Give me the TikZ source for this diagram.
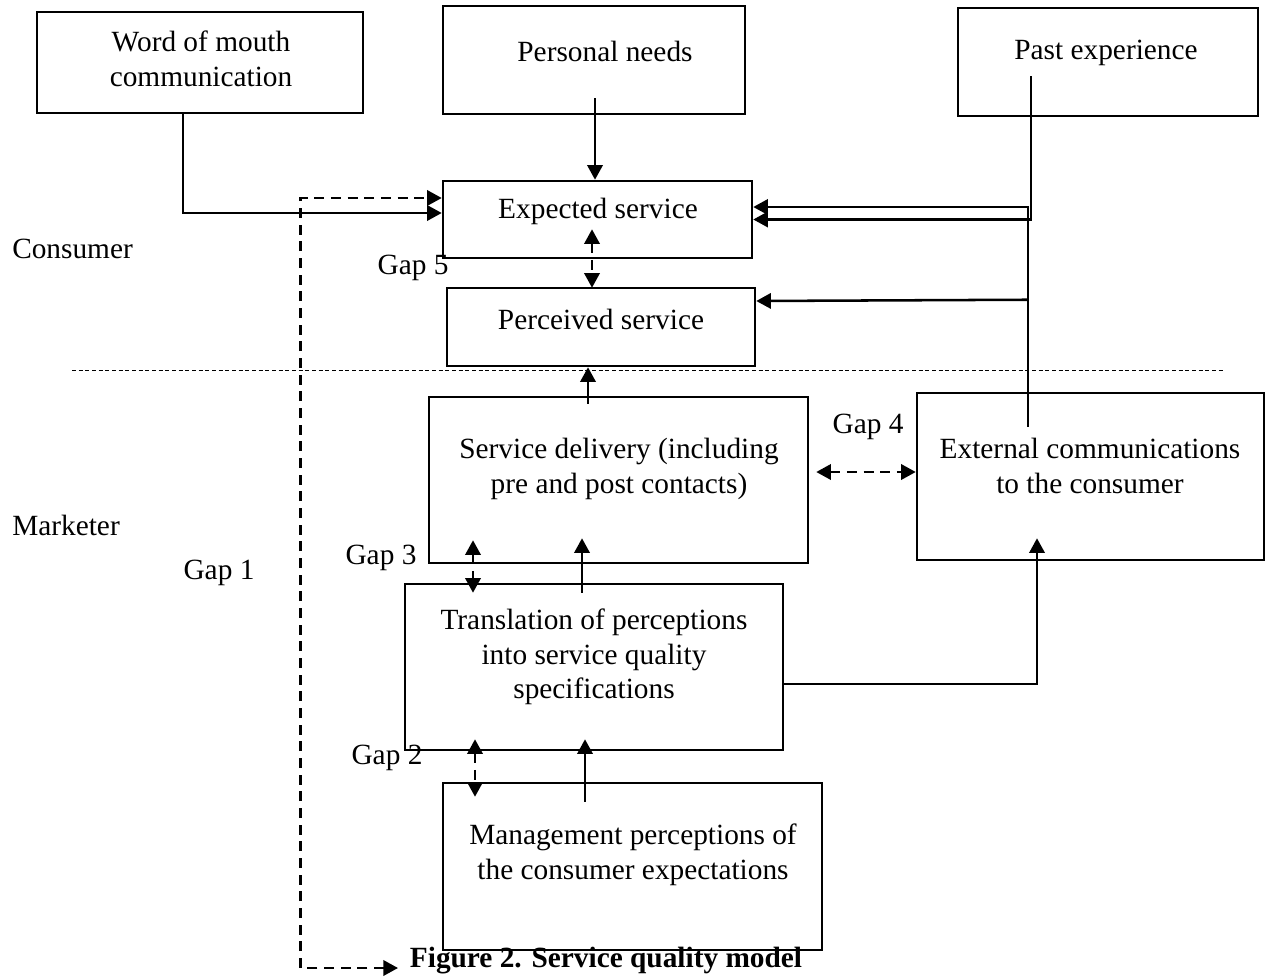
\documentclass[tikz,border=0pt]{standalone}
\usepackage{fontspec}
\setmainfont{Liberation Serif}
\usetikzlibrary{arrows.meta,calc}
\begin{document}
\begin{tikzpicture}[x=0.75pt,y=-0.75pt,
  every node/.style={font=\fontsize{22}{26}\selectfont},
  box/.style={draw,line width=1.9pt,inner sep=0pt},
  txt/.style={align=center,inner sep=0pt},
  lbl/.style={inner sep=0pt},
  arr/.style={line width=1.9pt,-{Triangle[length=11pt,width=11.5pt]}},
  dasharr/.style={line width=1.9pt,dash pattern=on 7.5pt off 5pt,{Triangle[length=11pt,width=11.5pt]}-{Triangle[length=11pt,width=11.5pt]}},
  sepline/.style={line width=0.7pt,dash pattern=on 3pt off 2pt}]
\useasboundingbox (0,0) rectangle (1266,978);

% boxes
\node[box,minimum width=244.5pt,minimum height=75.75pt] (wom) at (200,62.5) {};
\node[box,minimum width=226.5pt,minimum height=81pt] (pn) at (594,60) {};
\node[box,minimum width=225pt,minimum height=81pt] (pe) at (1108,62) {};
\node[box,minimum width=231.75pt,minimum height=57.75pt] (es) at (597.5,219.5) {};
\node[box,minimum width=231pt,minimum height=58.5pt] (ps) at (601,327) {};
\node[box,minimum width=284.25pt,minimum height=124.5pt] (sd) at (618.5,480) {};
\node[box,minimum width=260.25pt,minimum height=125.25pt] (ec) at (1090.5,476.5) {};
\node[box,minimum width=283.5pt,minimum height=124.5pt] (tr) at (594,667) {};
\node[box,minimum width=284.25pt,minimum height=125.25pt] (mp) at (632.5,866.5) {};

% box texts
\node[txt] (womt) at (201,59) {Word of mouth\\communication};
\node[txt] (pnt) at (605,51) {Personal needs};
\node[txt] (pet) at (1106,53) {Past experience};
\node[txt] (est) at (598,211) {Expected service};
\node[txt] (pst) at (601,319) {Perceived service};
\node[txt] (sdt) at (619,469) {Service delivery (including\\pre and post contacts)};
\node[txt] (ect) at (1090,466) {External communications\\to the consumer};
\node[txt] (trt) at (594,657) {Translation of perceptions\\into service quality\\specifications};
\node[txt] (mpt) at (633,855) {Management perceptions of\\the consumer expectations};

% labels
\node[lbl,anchor=west] (cons) at (12,249) {Consumer};
\node[lbl,anchor=west] (mark) at (12,525) {Marketer};
\node[lbl] (g1) at (219,573) {Gap 1};
\node[lbl] (g5) at (413,268) {Gap 5};
\node[lbl] (g4) at (868,427) {Gap 4};
\node[lbl] (g3) at (381,558) {Gap 3};
\node[lbl] (g2) at (387,758) {Gap 2};
\node[lbl,font=\fontsize{22}{26}\selectfont\bfseries] (cap) at (606,961) {Figure 2. Service quality model};

% separator
\coordinate (sepL) at (72,370);
\coordinate (sepR) at (1225,370);
\draw[sepline] (sepL) -- (sepR);

% connectors
\draw[arr] ($(wom.south)+(-17,0)$) |- ($(es.west)+(0,-6.5)$);
\coordinate (g1b) at (398,968);
\draw[dasharr] (g1b) -| ($(es.west)+(-141,-21.5)$) -- ($(es.west)+(0,-21.5)$);
\draw[arr] ($(pn.south)+(1,-17)$) -- ($(es.north)+(-2.5,0)$);
\draw[arr] ($(pe.south)+(-77,-41)$) |- (es.east);
\draw[arr] ($(ec.north)+(-62.5,35)$) |- ($(es.east)+(0,-12.5)$);
\draw[arr] ($(ec.north)+(-62.5,-92)$) -- ($(ps.east)+(0,-26)$);
\draw[arr] ($(sd.north)+(-30.5,8)$) -- ($(ps.south)+(-13,0)$);
\draw[dasharr] ($(es.south)+(-5.5,-30)$) -- ($(ps.north)+(-9,1)$);
\draw[dasharr] ($(sd.east)+(7,-8)$) -- ($(ec.west)+(0,-4.5)$);
\draw[dasharr] ($(sd.south)+(-145.5,-24)$) -- ($(tr.north)+(-121,10)$);
\draw[arr] ($(tr.north)+(-12,10)$) -- ($(sd.south)+(-36.5,-26)$);
\draw[dasharr] ($(tr.south)+(-119,-12)$) -- ($(mp.north)+(-157.5,15)$);
\draw[arr] ($(mp.north)+(-47.5,20)$) -- ($(tr.south)+(-9,-12)$);
\draw[arr] ($(tr.east)+(0,17)$) -| ($(ec.south)+(-53.5,-23)$);
\end{tikzpicture}
\end{document}
